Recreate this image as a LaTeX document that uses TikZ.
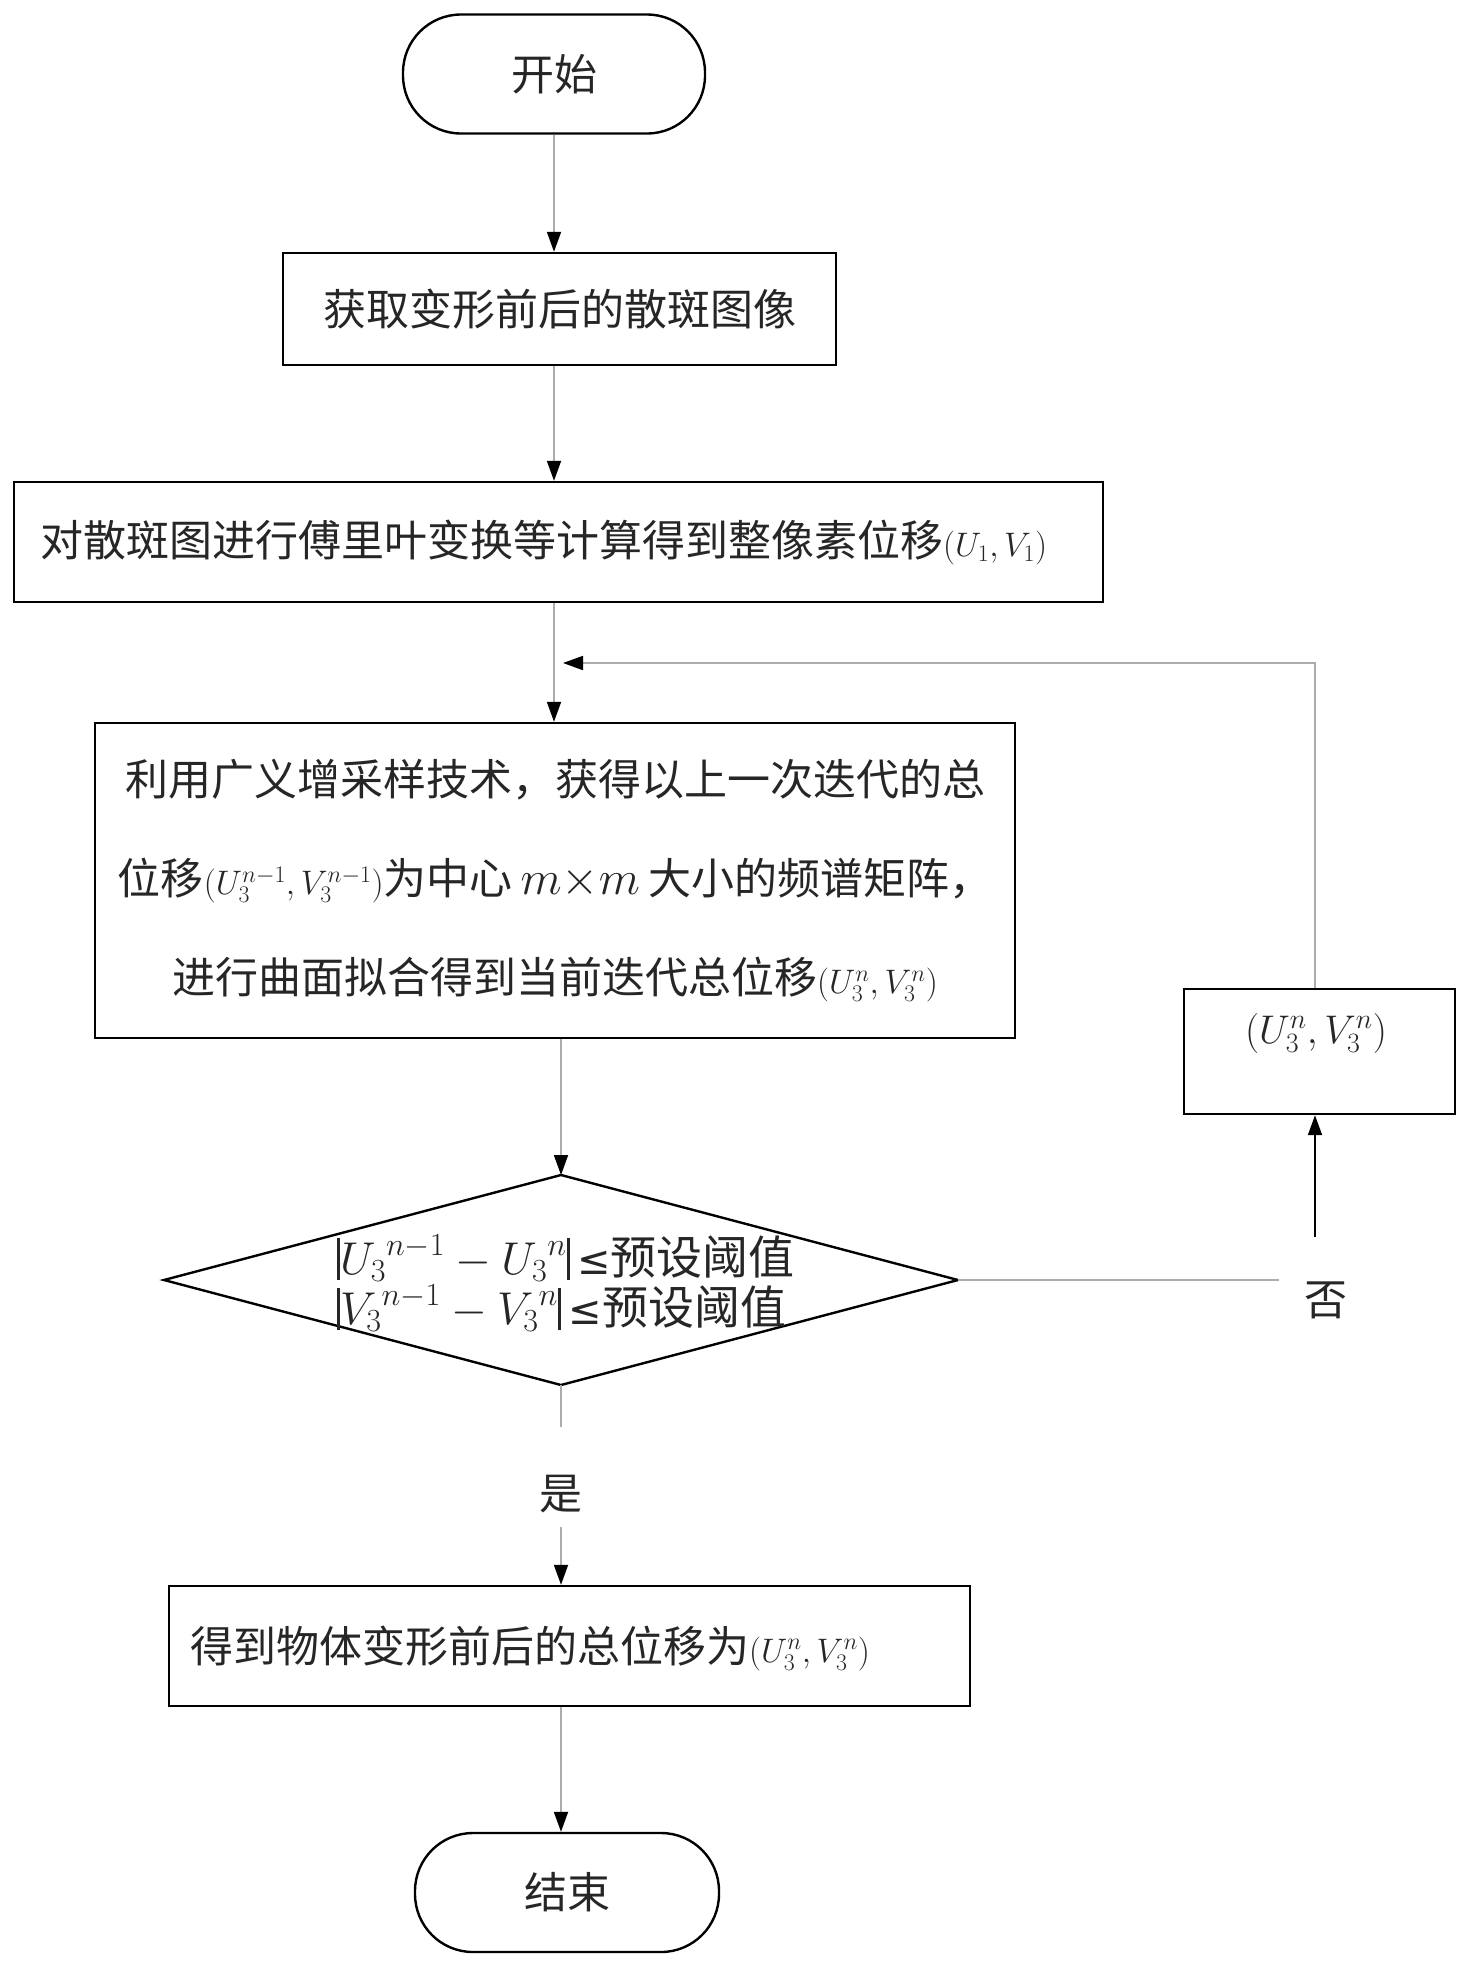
\RequirePackage{fix-cm}
\documentclass[tikz,border=0pt]{standalone}
\usepackage{fontspec}
\newfontfamily\cjk{Noto Sans CJK SC}
\newfontfamily\dv{DejaVu Sans}
\usetikzlibrary{arrows.meta}
\tikzset{
  proc/.style={draw=black, line width=2.4pt, inner sep=0pt, align=center,
    font=\cjk\fontsize{43}{52}\selectfont, text=black!85},
  term/.style={proc, rounded corners=58pt},
  lbl/.style={inner sep=0pt, font=\cjk\fontsize{43}{52}\selectfont, text=black!85},
  conn/.style={draw=gray!65, line width=1.8pt, -{Triangle[length=20pt,width=14pt,color=black]}},
  bconn/.style={draw=black, line width=2pt, -{Triangle[length=20pt,width=14pt,color=black]}},
  plain/.style={draw=gray!65, line width=1.8pt},
}
\newcommand{\sm}[1]{{\fontsize{34}{40}\selectfont$#1$}}
\newcommand{\vb}{\mathord{\rule[-6pt]{3.2pt}{42pt}}}
\newcommand{\leqs}{{\dv\fontsize{40}{48}\selectfont ≤}}
\begin{document}
\begin{tikzpicture}[x=1pt,y=-1pt]
\useasboundingbox (0,0) rectangle (1463,1965);
% nodes
\node[term, minimum width=302pt, minimum height=119pt] (start) at (554,74) {开始};
\node[proc, minimum width=553pt, minimum height=112pt] (b1) at (559.5,309) {获取变形前后的散斑图像};
\node[proc, minimum width=1089pt, minimum height=120pt] (b2) at (558.5,542) {};
\node[lbl, anchor=west] (b2t) at (40,542) {对散斑图进行傅里叶变换等计算得到整像素位移\sm{(U_1,V_1)}};
\node[proc, minimum width=920pt, minimum height=315pt, font=\cjk\fontsize{43}{99}\selectfont] (b3) at (555,880.5)
  {利用广义增采样技术，获得以上一次迭代的总\\
   位移\sm{(U_3^{n-1},V_3^{n-1})}为中心{\fontsize{48}{52}\selectfont$\,m{\times}m\,$}大小的频谱矩阵，\\
   进行曲面拟合得到当前迭代总位移\sm{(U_3^{n},V_3^{n})}};
\node[proc, minimum width=271pt, minimum height=125pt] (rb) at (1319.5,1051.5) {};
\node[lbl, font=\fontsize{40}{46}\selectfont] (rbt) at (1316,1033) {$({U_3^n},{V_3^n})$};
% diamond
\coordinate (dT) at (561,1175);
\coordinate (dB) at (561,1385);
\coordinate (dL) at (164,1280);
\coordinate (dR) at (958,1280);
\draw[line width=2.4pt, line join=miter] (dL) -- (dT) -- (dR) -- (dB) -- cycle;
\node[lbl, align=left, font=\cjk\fontsize{46}{50}\selectfont] (dtext) at (566,1283)
  {$\vb{U_3}^{n-1}-{U_3}^{n}\vb$\,\leqs 预设阈值\\
   $\vb{V_3}^{n-1}-{V_3}^{n}\vb$\,\leqs 预设阈值};
\node[proc, minimum width=801pt, minimum height=120pt] (b4) at (569.5,1646) {};
\node[lbl, anchor=west] (b4t) at (190,1648) {得到物体变形前后的总位移为\sm{(U_3^{n},V_3^{n})}};
\node[term, minimum width=304pt, minimum height=119pt] (end) at (567,1892.5) {结束};
\node[lbl] (no) at (1326,1300) {否};
\node[lbl] (yes) at (561,1494) {是};
\coordinate (noend) at (1279,1280);
\coordinate (upstart) at (1315,1237);
\coordinate (loopc) at (1315,663);
\coordinate (loopend) at (563,663);
\coordinate (yesa) at (561,1427);
\coordinate (yesb) at (561,1527);
% connectors
\draw[conn] (start.south) -- (b1.north -| start.south);
\draw[conn] (b1.south -| start.south) -- (b2.north -| start.south);
\draw[conn] (b2.south -| start.south) -- (b3.north -| start.south);
\draw[conn] (b3.south -| dT) -- (dT);
\draw[plain] (dR) -- (noend);
\draw[bconn] (upstart) -- (upstart |- rb.south);
\draw[conn] (rb.north -| loopc) -- (loopc) -- (loopend);
\draw[plain] (dB) -- (yesa);
\draw[conn] (yesb) -- (yesb |- b4.north);
\draw[conn] (b4.south -| yesb) -- (end.north -| yesb);
\end{tikzpicture}
\end{document}
